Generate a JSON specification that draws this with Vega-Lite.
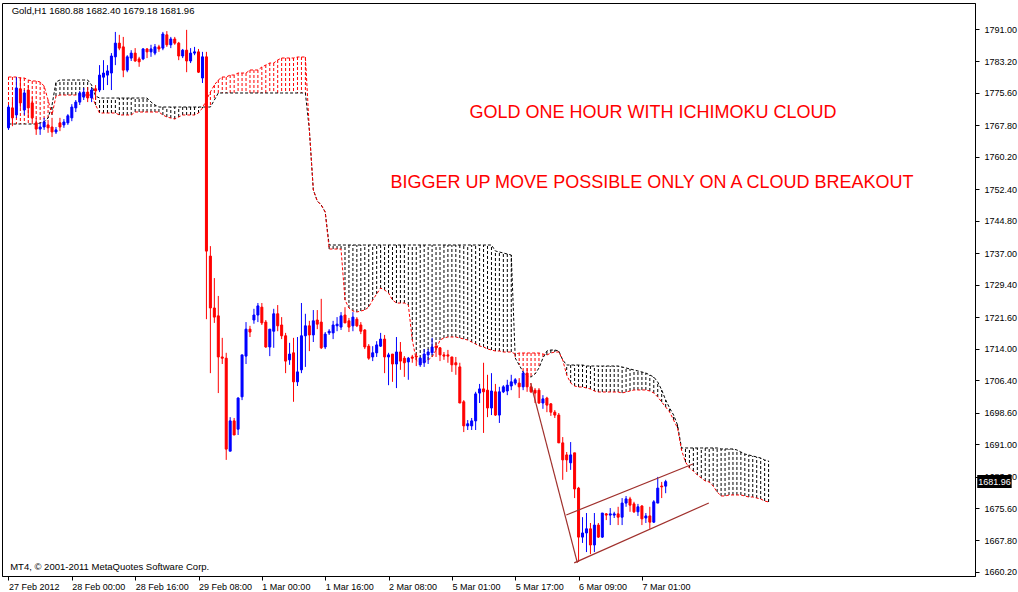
{
  "$schema": "https://vega.github.io/schema/vega-lite/v6.json",
  "width": 973,
  "height": 573,
  "autosize": {"type": "none"},
  "padding": {"left": 2, "top": 3, "right": 43, "bottom": 16},
  "background": "white",
  "config": {
    "view": {"stroke": "#000000", "strokeWidth": 1},
    "font": "Liberation Sans",
    "axis": {"labelOverlap": false, "labelFlush": false, "labelBound": false, "grid": false, "title": null}
  },
  "datasets": {
    "candles": [
      {"i":0,"o":1767.2,"h":1772.7,"l":1766.7,"c":1772.2},
      {"i":1,"o":1772.0,"h":1773.9,"l":1767.6,"c":1769.6},
      {"i":2,"o":1770.3,"h":1779.4,"l":1769.6,"c":1776.8},
      {"i":3,"o":1776.6,"h":1779.4,"l":1772.0,"c":1773.2},
      {"i":4,"o":1771.5,"h":1776.3,"l":1770.3,"c":1775.6},
      {"i":5,"o":1776.3,"h":1777.5,"l":1769.6,"c":1772.0},
      {"i":6,"o":1773.2,"h":1774.6,"l":1768.8,"c":1769.6},
      {"i":7,"o":1768.4,"h":1769.6,"l":1765.5,"c":1766.9},
      {"i":8,"o":1766.9,"h":1768.4,"l":1765.5,"c":1767.4},
      {"i":9,"o":1767.4,"h":1769.6,"l":1766.7,"c":1768.6},
      {"i":10,"o":1767.9,"h":1769.1,"l":1766.0,"c":1767.2},
      {"i":11,"o":1767.4,"h":1769.6,"l":1765.0,"c":1766.2},
      {"i":12,"o":1766.2,"h":1767.4,"l":1765.7,"c":1766.7},
      {"i":13,"o":1768.4,"h":1769.6,"l":1766.4,"c":1767.4},
      {"i":14,"o":1767.9,"h":1769.3,"l":1767.2,"c":1768.6},
      {"i":15,"o":1768.4,"h":1770.5,"l":1767.9,"c":1770.1},
      {"i":16,"o":1769.6,"h":1772.9,"l":1768.8,"c":1772.2},
      {"i":17,"o":1772.0,"h":1773.9,"l":1771.0,"c":1773.4},
      {"i":18,"o":1773.4,"h":1776.1,"l":1772.7,"c":1775.6},
      {"i":19,"o":1774.6,"h":1776.8,"l":1773.9,"c":1775.8},
      {"i":20,"o":1775.8,"h":1777.0,"l":1773.4,"c":1774.4},
      {"i":21,"o":1774.4,"h":1776.8,"l":1773.4,"c":1776.3},
      {"i":22,"o":1776.6,"h":1777.5,"l":1773.9,"c":1776.1},
      {"i":23,"o":1776.3,"h":1782.3,"l":1775.8,"c":1779.9},
      {"i":24,"o":1779.4,"h":1783.5,"l":1776.3,"c":1780.4},
      {"i":25,"o":1779.9,"h":1782.3,"l":1777.5,"c":1780.9},
      {"i":26,"o":1780.4,"h":1785.2,"l":1776.3,"c":1784.5},
      {"i":27,"o":1784.3,"h":1790.3,"l":1782.3,"c":1787.6},
      {"i":28,"o":1787.6,"h":1789.6,"l":1785.9,"c":1786.4},
      {"i":29,"o":1786.7,"h":1789.1,"l":1779.4,"c":1781.1},
      {"i":30,"o":1781.1,"h":1784.7,"l":1780.6,"c":1784.3},
      {"i":31,"o":1784.0,"h":1785.9,"l":1783.3,"c":1785.2},
      {"i":32,"o":1785.2,"h":1786.4,"l":1783.1,"c":1783.3},
      {"i":33,"o":1783.8,"h":1784.3,"l":1781.9,"c":1783.1},
      {"i":34,"o":1783.8,"h":1786.4,"l":1783.5,"c":1786.2},
      {"i":35,"o":1786.2,"h":1786.4,"l":1784.0,"c":1785.5},
      {"i":36,"o":1785.5,"h":1787.2,"l":1784.3,"c":1786.2},
      {"i":37,"o":1785.2,"h":1787.4,"l":1784.7,"c":1786.7},
      {"i":38,"o":1786.7,"h":1787.2,"l":1785.5,"c":1786.2},
      {"i":39,"o":1786.4,"h":1790.3,"l":1785.9,"c":1789.8},
      {"i":40,"o":1789.6,"h":1790.5,"l":1786.7,"c":1787.2},
      {"i":41,"o":1787.2,"h":1789.1,"l":1786.4,"c":1788.6},
      {"i":42,"o":1788.6,"h":1789.1,"l":1787.2,"c":1787.6},
      {"i":43,"o":1787.6,"h":1787.9,"l":1783.5,"c":1784.5},
      {"i":44,"o":1784.5,"h":1786.2,"l":1784.0,"c":1785.9},
      {"i":45,"o":1785.9,"h":1790.8,"l":1780.6,"c":1783.3},
      {"i":46,"o":1783.3,"h":1786.4,"l":1782.8,"c":1785.2},
      {"i":47,"o":1785.2,"h":1786.7,"l":1784.7,"c":1785.5},
      {"i":48,"o":1785.5,"h":1786.2,"l":1780.4,"c":1780.6},
      {"i":49,"o":1779.2,"h":1785.5,"l":1778.0,"c":1784.3},
      {"i":50,"o":1784.3,"h":1785.5,"l":1721.1,"c":1737.5},
      {"i":51,"o":1736.3,"h":1738.7,"l":1708.1,"c":1723.8},
      {"i":52,"o":1723.8,"h":1731.0,"l":1720.2,"c":1721.6},
      {"i":53,"o":1721.9,"h":1726.7,"l":1703.3,"c":1712.0},
      {"i":54,"o":1712.0,"h":1716.6,"l":1710.3,"c":1711.7},
      {"i":55,"o":1711.7,"h":1713.0,"l":1687.2,"c":1689.8},
      {"i":56,"o":1689.3,"h":1697.5,"l":1689.3,"c":1696.6},
      {"i":57,"o":1696.6,"h":1697.3,"l":1693.2,"c":1693.2},
      {"i":58,"o":1694.6,"h":1702.3,"l":1693.2,"c":1702.1},
      {"i":59,"o":1702.4,"h":1712.5,"l":1701.6,"c":1712.5},
      {"i":60,"o":1712.2,"h":1720.4,"l":1710.3,"c":1718.7},
      {"i":61,"o":1718.7,"h":1719.5,"l":1716.8,"c":1718.0},
      {"i":62,"o":1720.9,"h":1723.6,"l":1720.0,"c":1722.1},
      {"i":63,"o":1722.1,"h":1725.0,"l":1720.4,"c":1724.3},
      {"i":64,"o":1724.0,"h":1725.0,"l":1719.7,"c":1720.2},
      {"i":65,"o":1720.4,"h":1720.9,"l":1714.2,"c":1714.4},
      {"i":66,"o":1714.4,"h":1718.7,"l":1712.2,"c":1718.7},
      {"i":67,"o":1718.2,"h":1723.6,"l":1714.2,"c":1722.4},
      {"i":68,"o":1722.4,"h":1724.5,"l":1718.2,"c":1719.5},
      {"i":69,"o":1719.7,"h":1721.6,"l":1716.3,"c":1717.1},
      {"i":70,"o":1717.1,"h":1717.8,"l":1708.1,"c":1711.0},
      {"i":71,"o":1711.3,"h":1715.4,"l":1710.1,"c":1712.7},
      {"i":72,"o":1713.0,"h":1716.6,"l":1701.2,"c":1706.0},
      {"i":73,"o":1706.0,"h":1716.8,"l":1705.0,"c":1708.4},
      {"i":74,"o":1708.9,"h":1725.0,"l":1708.1,"c":1717.1},
      {"i":75,"o":1717.1,"h":1722.4,"l":1709.6,"c":1719.5},
      {"i":76,"o":1719.5,"h":1720.7,"l":1713.4,"c":1717.3},
      {"i":77,"o":1717.3,"h":1723.3,"l":1715.6,"c":1720.7},
      {"i":78,"o":1720.9,"h":1723.3,"l":1718.7,"c":1719.9},
      {"i":79,"o":1720.4,"h":1726.0,"l":1713.9,"c":1714.2},
      {"i":80,"o":1714.4,"h":1718.0,"l":1713.9,"c":1717.5},
      {"i":81,"o":1717.8,"h":1718.7,"l":1717.3,"c":1718.2},
      {"i":82,"o":1717.8,"h":1720.7,"l":1716.3,"c":1719.7},
      {"i":83,"o":1719.5,"h":1721.6,"l":1718.2,"c":1719.9},
      {"i":84,"o":1719.2,"h":1722.8,"l":1718.5,"c":1721.9},
      {"i":85,"o":1722.1,"h":1724.0,"l":1720.2,"c":1720.2},
      {"i":86,"o":1720.7,"h":1721.4,"l":1718.0,"c":1719.2},
      {"i":87,"o":1719.5,"h":1722.8,"l":1718.2,"c":1721.6},
      {"i":88,"o":1721.1,"h":1721.6,"l":1719.2,"c":1719.5},
      {"i":89,"o":1719.7,"h":1720.4,"l":1717.5,"c":1718.2},
      {"i":90,"o":1718.5,"h":1718.7,"l":1713.9,"c":1714.4},
      {"i":91,"o":1714.6,"h":1715.1,"l":1711.3,"c":1711.7},
      {"i":92,"o":1712.0,"h":1714.6,"l":1711.0,"c":1713.0},
      {"i":93,"o":1713.0,"h":1715.8,"l":1712.0,"c":1714.9},
      {"i":94,"o":1714.6,"h":1717.8,"l":1714.4,"c":1716.3},
      {"i":95,"o":1716.3,"h":1717.3,"l":1708.1,"c":1712.0},
      {"i":96,"o":1712.0,"h":1713.0,"l":1705.2,"c":1712.5},
      {"i":97,"o":1712.7,"h":1712.7,"l":1706.0,"c":1710.3},
      {"i":98,"o":1710.3,"h":1716.8,"l":1704.5,"c":1713.2},
      {"i":99,"o":1713.2,"h":1715.6,"l":1708.9,"c":1711.0},
      {"i":100,"o":1711.7,"h":1712.2,"l":1707.2,"c":1710.6},
      {"i":101,"o":1710.8,"h":1712.0,"l":1706.5,"c":1711.7},
      {"i":102,"o":1712.0,"h":1712.5,"l":1710.6,"c":1711.7},
      {"i":103,"o":1712.2,"h":1713.0,"l":1709.8,"c":1712.0},
      {"i":104,"o":1710.1,"h":1712.0,"l":1709.6,"c":1711.7},
      {"i":105,"o":1710.6,"h":1713.9,"l":1709.6,"c":1712.7},
      {"i":106,"o":1712.5,"h":1713.9,"l":1710.3,"c":1713.2},
      {"i":107,"o":1713.0,"h":1716.6,"l":1712.5,"c":1714.4},
      {"i":108,"o":1714.6,"h":1715.4,"l":1712.0,"c":1714.2},
      {"i":109,"o":1714.2,"h":1714.4,"l":1711.0,"c":1712.5},
      {"i":110,"o":1712.5,"h":1713.2,"l":1711.3,"c":1712.2},
      {"i":111,"o":1712.5,"h":1713.7,"l":1710.6,"c":1712.2},
      {"i":112,"o":1712.0,"h":1712.0,"l":1708.4,"c":1710.1},
      {"i":113,"o":1710.6,"h":1712.0,"l":1707.7,"c":1710.1},
      {"i":114,"o":1709.6,"h":1710.6,"l":1700.9,"c":1700.9},
      {"i":115,"o":1701.2,"h":1701.6,"l":1693.9,"c":1695.4},
      {"i":116,"o":1695.4,"h":1696.8,"l":1694.4,"c":1695.9},
      {"i":117,"o":1695.4,"h":1697.3,"l":1694.4,"c":1696.6},
      {"i":118,"o":1696.6,"h":1703.6,"l":1694.4,"c":1703.1},
      {"i":119,"o":1703.3,"h":1705.5,"l":1700.9,"c":1704.3},
      {"i":120,"o":1704.3,"h":1710.6,"l":1693.7,"c":1703.6},
      {"i":121,"o":1704.0,"h":1707.7,"l":1697.5,"c":1699.7},
      {"i":122,"o":1699.7,"h":1708.1,"l":1698.0,"c":1703.8},
      {"i":123,"o":1703.6,"h":1705.5,"l":1697.8,"c":1698.0},
      {"i":124,"o":1698.0,"h":1704.8,"l":1696.1,"c":1703.6},
      {"i":125,"o":1703.6,"h":1705.2,"l":1703.3,"c":1704.8},
      {"i":126,"o":1703.8,"h":1706.5,"l":1702.8,"c":1705.2},
      {"i":127,"o":1705.0,"h":1707.7,"l":1704.0,"c":1706.0},
      {"i":128,"o":1705.7,"h":1706.9,"l":1705.2,"c":1706.5},
      {"i":129,"o":1705.7,"h":1706.9,"l":1702.1,"c":1704.8},
      {"i":130,"o":1704.8,"h":1708.6,"l":1704.0,"c":1708.1},
      {"i":131,"o":1708.1,"h":1709.3,"l":1703.6,"c":1704.8},
      {"i":132,"o":1704.8,"h":1705.7,"l":1703.3,"c":1703.6},
      {"i":133,"o":1704.0,"h":1704.5,"l":1700.9,"c":1703.3},
      {"i":134,"o":1704.0,"h":1704.5,"l":1700.7,"c":1700.9},
      {"i":135,"o":1700.9,"h":1702.8,"l":1699.5,"c":1701.9},
      {"i":136,"o":1702.1,"h":1702.4,"l":1698.7,"c":1700.4},
      {"i":137,"o":1700.7,"h":1700.9,"l":1697.8,"c":1698.7},
      {"i":138,"o":1698.7,"h":1699.2,"l":1697.3,"c":1698.0},
      {"i":139,"o":1698.0,"h":1698.5,"l":1691.3,"c":1691.3},
      {"i":140,"o":1691.3,"h":1692.7,"l":1682.4,"c":1687.2},
      {"i":141,"o":1688.4,"h":1689.1,"l":1684.3,"c":1687.2},
      {"i":142,"o":1686.5,"h":1691.5,"l":1684.8,"c":1688.4},
      {"i":143,"o":1688.9,"h":1688.9,"l":1678.0,"c":1680.2},
      {"i":144,"o":1680.4,"h":1680.7,"l":1662.6,"c":1668.6},
      {"i":145,"o":1668.6,"h":1673.4,"l":1667.2,"c":1669.6},
      {"i":146,"o":1669.6,"h":1674.4,"l":1665.0,"c":1670.6},
      {"i":147,"o":1670.6,"h":1672.0,"l":1664.5,"c":1666.7},
      {"i":148,"o":1666.7,"h":1674.4,"l":1665.0,"c":1671.5},
      {"i":149,"o":1671.5,"h":1672.0,"l":1668.4,"c":1668.6},
      {"i":150,"o":1668.6,"h":1674.4,"l":1668.4,"c":1674.4},
      {"i":151,"o":1674.2,"h":1674.4,"l":1672.7,"c":1673.9},
      {"i":152,"o":1673.9,"h":1675.6,"l":1671.5,"c":1674.2},
      {"i":153,"o":1673.9,"h":1674.7,"l":1673.2,"c":1674.2},
      {"i":154,"o":1674.2,"h":1675.9,"l":1671.5,"c":1673.4},
      {"i":155,"o":1673.4,"h":1678.0,"l":1671.5,"c":1676.8},
      {"i":156,"o":1676.8,"h":1678.5,"l":1675.9,"c":1677.8},
      {"i":157,"o":1677.8,"h":1678.3,"l":1674.7,"c":1676.3},
      {"i":158,"o":1676.6,"h":1677.1,"l":1674.4,"c":1674.7},
      {"i":159,"o":1674.7,"h":1676.6,"l":1673.7,"c":1675.9},
      {"i":160,"o":1676.1,"h":1676.3,"l":1671.5,"c":1673.0},
      {"i":161,"o":1673.2,"h":1674.4,"l":1672.0,"c":1673.7},
      {"i":162,"o":1673.7,"h":1675.9,"l":1670.6,"c":1672.2},
      {"i":163,"o":1672.2,"h":1677.5,"l":1672.0,"c":1677.1},
      {"i":164,"o":1676.8,"h":1683.1,"l":1676.8,"c":1680.4},
      {"i":165,"o":1680.9,"h":1681.9,"l":1678.0,"c":1680.7},
      {"i":166,"o":1680.88,"h":1682.40,"l":1679.18,"c":1681.96}
    ],
    "cloud": [
      {"i":0,"a":1779.44,"b":1768.12},{"i":1,"a":1779.44,"b":1768.12},{"i":2,"a":1779.44,"b":1768.12},
      {"i":3,"a":1779.20,"b":1768.12},{"i":4,"a":1779.20,"b":1768.12},{"i":5,"a":1778.72,"b":1768.12},
      {"i":6,"a":1778.48,"b":1768.12},{"i":7,"a":1778.48,"b":1768.12},{"i":8,"a":1778.24,"b":1768.36},
      {"i":9,"a":1777.27,"b":1768.60},{"i":10,"a":1773.90,"b":1769.56},{"i":11,"a":1770.29,"b":1772.70},
      {"i":12,"a":1774.86,"b":1778.24},{"i":13,"a":1775.10,"b":1778.72},{"i":14,"a":1775.10,"b":1778.72},
      {"i":15,"a":1775.10,"b":1778.72},{"i":16,"a":1775.10,"b":1778.72},{"i":17,"a":1775.10,"b":1778.72},
      {"i":18,"a":1775.10,"b":1778.72},{"i":19,"a":1775.10,"b":1778.72},{"i":20,"a":1775.10,"b":1778.72},
      {"i":21,"a":1775.10,"b":1777.51},{"i":22,"a":1772.70,"b":1774.86},{"i":23,"a":1770.77,"b":1774.38},
      {"i":24,"a":1770.77,"b":1774.38},{"i":25,"a":1770.77,"b":1774.38},{"i":26,"a":1770.77,"b":1774.38},
      {"i":27,"a":1770.77,"b":1774.38},{"i":28,"a":1770.29,"b":1774.38},{"i":29,"a":1770.29,"b":1774.38},
      {"i":30,"a":1770.29,"b":1774.38},{"i":31,"a":1770.29,"b":1774.38},{"i":32,"a":1771.01,"b":1774.38},
      {"i":33,"a":1771.01,"b":1774.38},{"i":34,"a":1771.01,"b":1774.38},{"i":35,"a":1771.01,"b":1774.38},
      {"i":36,"a":1771.01,"b":1773.42},{"i":37,"a":1771.01,"b":1772.70},{"i":38,"a":1771.01,"b":1772.21},
      {"i":39,"a":1770.29,"b":1772.21},{"i":40,"a":1769.81,"b":1772.21},{"i":41,"a":1769.56,"b":1772.21},
      {"i":42,"a":1769.32,"b":1772.21},{"i":43,"a":1769.81,"b":1772.21},{"i":44,"a":1770.29,"b":1772.21},
      {"i":45,"a":1770.29,"b":1772.21},{"i":46,"a":1770.29,"b":1772.21},{"i":47,"a":1770.29,"b":1772.21},
      {"i":48,"a":1770.77,"b":1772.21},{"i":49,"a":1771.97,"b":1772.21},{"i":50,"a":1773.90,"b":1772.21},
      {"i":51,"a":1775.83,"b":1772.21},{"i":52,"a":1777.51,"b":1773.90},{"i":53,"a":1778.72,"b":1775.59},
      {"i":54,"a":1779.44,"b":1775.59},{"i":55,"a":1779.44,"b":1775.59},{"i":56,"a":1779.92,"b":1775.59},
      {"i":57,"a":1779.92,"b":1775.59},{"i":58,"a":1780.40,"b":1775.59},{"i":59,"a":1780.40,"b":1775.59},
      {"i":60,"a":1780.40,"b":1775.59},{"i":61,"a":1781.13,"b":1775.59},{"i":62,"a":1781.13,"b":1775.59},
      {"i":63,"a":1781.13,"b":1775.59},{"i":64,"a":1781.85,"b":1775.59},{"i":65,"a":1782.33,"b":1775.59},
      {"i":66,"a":1782.81,"b":1775.59},{"i":67,"a":1782.81,"b":1775.59},{"i":68,"a":1783.54,"b":1775.59},
      {"i":69,"a":1784.02,"b":1775.59},{"i":70,"a":1784.02,"b":1775.59},{"i":71,"a":1784.02,"b":1775.59},
      {"i":72,"a":1784.02,"b":1775.59},{"i":73,"a":1784.26,"b":1775.59},{"i":74,"a":1784.26,"b":1775.59},
      {"i":75,"a":1784.26,"b":1775.59},{"i":76,"a":1766.67,"b":1766.67},{"i":77,"a":1752.22,"b":1752.22},
      {"i":78,"a":1749.57,"b":1749.57},{"i":79,"a":1748.60,"b":1748.60},{"i":80,"a":1746.92,"b":1746.92},
      {"i":81,"a":1738.00,"b":1738.97},{"i":82,"a":1738.00,"b":1738.97},{"i":83,"a":1738.00,"b":1738.97},
      {"i":84,"a":1738.00,"b":1738.97},{"i":85,"a":1725.72,"b":1738.97},{"i":86,"a":1723.79,"b":1738.97},
      {"i":87,"a":1723.07,"b":1738.97},{"i":88,"a":1722.83,"b":1738.97},{"i":89,"a":1723.07,"b":1738.97},
      {"i":90,"a":1723.31,"b":1738.97},{"i":91,"a":1724.03,"b":1738.97},{"i":92,"a":1725.72,"b":1738.97},
      {"i":93,"a":1727.17,"b":1738.97},{"i":94,"a":1728.61,"b":1738.97},{"i":95,"a":1728.13,"b":1738.97},
      {"i":96,"a":1727.41,"b":1738.97},{"i":97,"a":1725.72,"b":1738.97},{"i":98,"a":1724.99,"b":1738.97},
      {"i":99,"a":1724.99,"b":1738.97},{"i":100,"a":1724.99,"b":1738.97},{"i":101,"a":1724.52,"b":1738.97},
      {"i":102,"a":1716.08,"b":1738.97},{"i":103,"a":1711.27,"b":1738.97},{"i":104,"a":1710.54,"b":1738.97},
      {"i":105,"a":1710.78,"b":1738.97},{"i":106,"a":1711.27,"b":1738.97},{"i":107,"a":1711.99,"b":1738.97},
      {"i":108,"a":1713.67,"b":1738.97},{"i":109,"a":1716.08,"b":1738.97},{"i":110,"a":1716.57,"b":1738.97},
      {"i":111,"a":1716.81,"b":1738.97},{"i":112,"a":1716.81,"b":1738.97},{"i":113,"a":1716.81,"b":1738.97},
      {"i":114,"a":1716.57,"b":1738.97},{"i":115,"a":1716.32,"b":1738.97},{"i":116,"a":1716.08,"b":1738.97},
      {"i":117,"a":1715.60,"b":1738.97},{"i":118,"a":1715.12,"b":1738.97},{"i":119,"a":1714.64,"b":1738.97},
      {"i":120,"a":1714.40,"b":1738.97},{"i":121,"a":1713.92,"b":1738.97},{"i":122,"a":1713.67,"b":1738.97},
      {"i":123,"a":1713.43,"b":1737.52},{"i":124,"a":1713.43,"b":1737.28},{"i":125,"a":1713.19,"b":1737.04},
      {"i":126,"a":1713.19,"b":1736.80},{"i":127,"a":1713.19,"b":1736.56},{"i":128,"a":1712.71,"b":1711.75},
      {"i":129,"a":1712.95,"b":1710.06},{"i":130,"a":1712.95,"b":1708.37},{"i":131,"a":1712.95,"b":1707.41},
      {"i":132,"a":1712.95,"b":1707.17},{"i":133,"a":1712.95,"b":1707.89},{"i":134,"a":1712.95,"b":1709.34},
      {"i":135,"a":1712.71,"b":1711.75},{"i":136,"a":1712.47,"b":1713.43},{"i":137,"a":1712.95,"b":1713.67},
      {"i":138,"a":1713.19,"b":1713.67},{"i":139,"a":1713.19,"b":1713.43},{"i":140,"a":1711.27,"b":1711.27},
      {"i":141,"a":1707.65,"b":1710.06},{"i":142,"a":1705.72,"b":1710.06},{"i":143,"a":1705.00,"b":1710.06},
      {"i":144,"a":1704.76,"b":1710.06},{"i":145,"a":1704.76,"b":1710.06},{"i":146,"a":1704.52,"b":1709.82},
      {"i":147,"a":1704.28,"b":1709.82},{"i":148,"a":1703.80,"b":1709.82},{"i":149,"a":1703.56,"b":1709.82},
      {"i":150,"a":1703.56,"b":1709.82},{"i":151,"a":1703.56,"b":1709.82},{"i":152,"a":1703.56,"b":1709.82},
      {"i":153,"a":1703.56,"b":1709.82},{"i":154,"a":1703.56,"b":1709.82},{"i":155,"a":1703.32,"b":1709.58},
      {"i":156,"a":1703.56,"b":1709.34},{"i":157,"a":1703.80,"b":1709.10},{"i":158,"a":1704.04,"b":1708.86},
      {"i":159,"a":1704.04,"b":1708.62},{"i":160,"a":1704.04,"b":1708.37},{"i":161,"a":1704.04,"b":1708.13},
      {"i":162,"a":1703.80,"b":1707.65},{"i":163,"a":1703.32,"b":1707.17},{"i":164,"a":1702.35,"b":1705.96},
      {"i":165,"a":1701.15,"b":1704.04},{"i":166,"a":1699.94,"b":1701.63},{"i":167,"a":1698.74,"b":1699.70},
      {"i":168,"a":1696.81,"b":1698.02},{"i":169,"a":1694.89,"b":1695.61},{"i":170,"a":1689.59,"b":1690.07},
      {"i":171,"a":1686.69,"b":1690.07},{"i":172,"a":1685.25,"b":1690.07},{"i":173,"a":1684.53,"b":1690.07},
      {"i":174,"a":1683.56,"b":1690.07},{"i":175,"a":1682.84,"b":1690.07},{"i":176,"a":1682.12,"b":1690.07},
      {"i":177,"a":1681.88,"b":1690.07},{"i":178,"a":1680.91,"b":1690.07},{"i":179,"a":1679.47,"b":1690.07},
      {"i":180,"a":1678.51,"b":1689.83},{"i":181,"a":1678.51,"b":1689.83},{"i":182,"a":1678.75,"b":1689.83},
      {"i":183,"a":1678.75,"b":1689.83},{"i":184,"a":1678.75,"b":1689.59},{"i":185,"a":1678.75,"b":1689.10},
      {"i":186,"a":1678.51,"b":1688.62},{"i":187,"a":1678.26,"b":1688.38},{"i":188,"a":1678.26,"b":1688.14},
      {"i":189,"a":1678.02,"b":1687.90},{"i":190,"a":1677.78,"b":1687.66},{"i":191,"a":1677.30,"b":1687.18},
      {"i":192,"a":1677.06,"b":1686.94}
    ],
    "trendlines": [
      {"x1":131.9,"y1":1705.7,"x2":143.7,"y2":1662.4},
      {"x1":142.9,"y1":1662.4,"x2":176.9,"y2":1676.82},
      {"x1":140.9,"y1":1673.93,"x2":172.9,"y2":1686.21}
    ],
    "headline": [
      {"t":"GOLD ONE HOUR WITH ICHIMOKU CLOUD","i":162.8,"p":1769.49},
      {"t":"BIGGER UP MOVE POSSIBLE ONLY ON A CLOUD BREAKOUT","i":162.55,"p":1752.63}
    ],
    "smalltext": [
      {"t":"Gold,H1  1680.88 1682.40 1679.18 1681.96","i":0.8,"p":1794.5},
      {"t":"MT4, © 2001-2011 MetaQuotes Software Corp.","i":0.43,"p":1660.68}
    ],
    "pricetag": [
      {"t":"1681.96","i0":244.7,"i1":253.4,"im":249.05,"p0":1680.43,"p1":1683.56,"p":1681.96}
    ]
  },
  "layer": [
    {
      "data": {"name": "cloud"},
      "mark": {"type": "rule", "strokeDash": [3, 2], "strokeWidth": 1},
      "encoding": {
        "x": {
          "field": "i", "type": "quantitative", "title": null,
          "scale": {"domain": [-0.375, 242.875], "nice": false, "zero": false},
          "axis": {
            "orient": "bottom", "title": null, "grid": false,
            "values": [0, 16, 32, 48, 64, 80, 96, 112, 128, 144, 160],
            "tickCount": 40,
            "labelExpr": "['27 Feb 2012','28 Feb 00:00','28 Feb 16:00','29 Feb 08:00','1 Mar 00:00','1 Mar 16:00','2 Mar 08:00','5 Mar 01:00','5 Mar 17:00','6 Mar 09:00','7 Mar 01:00'][round(datum.value / 16)]",
            "domainColor": "#000000", "tickColor": "#000000", "tickSize": 4,
            "labelAlign": "left", "labelBaseline": "top", "labelPadding": 2,
            "labelFont": "Liberation Sans", "labelFontSize": 9, "labelColor": "#000000",
            "labelOverlap": false, "labelFlush": false
          }
        },
        "y": {
          "field": "a", "type": "quantitative", "title": null,
          "scale": {"domain": [1659.23, 1797.27], "nice": false, "zero": false},
          "axis": {
            "orient": "right", "title": null, "grid": false,
            "values": [1791.0, 1783.2, 1775.6, 1767.8, 1760.2, 1752.4, 1744.8, 1737.0, 1729.4, 1721.6, 1714.0, 1706.4, 1698.6, 1691.0, 1683.2, 1675.6, 1667.8, 1660.2],
            "tickCount": 40,
            "format": ".2f",
            "domainColor": "#000000", "tickColor": "#000000", "tickSize": 4,
            "labelPadding": 5, "labelBaseline": "middle",
            "labelFont": "Liberation Sans", "labelFontSize": 9, "labelColor": "#000000",
            "labelOverlap": false, "labelFlush": false
          }
        },
        "y2": {"field": "b"},
        "color": {"condition": {"test": "datum.a > datum.b", "value": "#ff0000"}, "value": "#000000"}
      }
    },
    {
      "data": {"name": "cloud"},
      "mark": {"type": "line", "color": "#000000", "strokeDash": [3, 2], "strokeWidth": 1},
      "encoding": {
        "x": {"field": "i", "type": "quantitative", "title": null, "scale": {"domain": [-0.375, 242.875], "nice": false, "zero": false}},
        "y": {"field": "b", "type": "quantitative", "title": null, "scale": {"domain": [1659.23, 1797.27], "nice": false, "zero": false}}
      }
    },
    {
      "data": {"name": "cloud"},
      "mark": {"type": "line", "color": "#ff0000", "strokeDash": [3, 2], "strokeWidth": 1},
      "encoding": {
        "x": {"field": "i", "type": "quantitative", "title": null, "scale": {"domain": [-0.375, 242.875], "nice": false, "zero": false}},
        "y": {"field": "a", "type": "quantitative", "title": null, "scale": {"domain": [1659.23, 1797.27], "nice": false, "zero": false}}
      }
    },
    {
      "data": {"name": "candles"},
      "mark": {"type": "rule", "strokeWidth": 1},
      "encoding": {
        "x": {"field": "i", "type": "quantitative", "title": null, "scale": {"domain": [-0.375, 242.875], "nice": false, "zero": false}},
        "y": {"field": "l", "type": "quantitative", "title": null, "scale": {"domain": [1659.23, 1797.27], "nice": false, "zero": false}},
        "y2": {"field": "h"},
        "color": {"condition": {"test": "datum.c >= datum.o", "value": "#0000ff"}, "value": "#ff0000"}
      }
    },
    {
      "data": {"name": "candles"},
      "mark": {"type": "bar", "size": 2, "strokeWidth": 1},
      "encoding": {
        "x": {"field": "i", "type": "quantitative", "title": null, "scale": {"domain": [-0.375, 242.875], "nice": false, "zero": false}},
        "y": {"field": "o", "type": "quantitative", "title": null, "scale": {"domain": [1659.23, 1797.27], "nice": false, "zero": false}},
        "y2": {"field": "c"},
        "color": {"condition": {"test": "datum.c >= datum.o", "value": "#0000ff"}, "value": "#ff0000"},
        "stroke": {"condition": {"test": "datum.c >= datum.o", "value": "#0000ff"}, "value": "#ff0000"}
      }
    },
    {
      "data": {"name": "trendlines"},
      "mark": {"type": "rule", "color": "#a0302c", "strokeWidth": 1.2},
      "encoding": {
        "x": {"field": "x1", "type": "quantitative", "title": null, "scale": {"domain": [-0.375, 242.875], "nice": false, "zero": false}},
        "y": {"field": "y1", "type": "quantitative", "title": null, "scale": {"domain": [1659.23, 1797.27], "nice": false, "zero": false}},
        "x2": {"field": "x2"},
        "y2": {"field": "y2"}
      }
    },
    {
      "data": {"name": "headline"},
      "mark": {"type": "text", "align": "center", "baseline": "alphabetic", "font": "Liberation Sans", "fontSize": 18, "color": "#ff0000"},
      "encoding": {
        "x": {"field": "i", "type": "quantitative", "title": null, "scale": {"domain": [-0.375, 242.875], "nice": false, "zero": false}},
        "y": {"field": "p", "type": "quantitative", "title": null, "scale": {"domain": [1659.23, 1797.27], "nice": false, "zero": false}},
        "text": {"field": "t"}
      }
    },
    {
      "data": {"name": "smalltext"},
      "mark": {"type": "text", "align": "left", "baseline": "alphabetic", "font": "Liberation Sans", "fontSize": 9.5, "color": "#000000"},
      "encoding": {
        "x": {"field": "i", "type": "quantitative", "title": null, "scale": {"domain": [-0.375, 242.875], "nice": false, "zero": false}},
        "y": {"field": "p", "type": "quantitative", "title": null, "scale": {"domain": [1659.23, 1797.27], "nice": false, "zero": false}},
        "text": {"field": "t"}
      }
    },
    {
      "data": {"name": "pricetag"},
      "mark": {"type": "rect", "color": "#000000"},
      "encoding": {
        "x": {"field": "i0", "type": "quantitative", "title": null, "scale": {"domain": [-0.375, 242.875], "nice": false, "zero": false}},
        "x2": {"field": "i1"},
        "y": {"field": "p0", "type": "quantitative", "title": null, "scale": {"domain": [1659.23, 1797.27], "nice": false, "zero": false}},
        "y2": {"field": "p1"}
      }
    },
    {
      "data": {"name": "pricetag"},
      "mark": {"type": "text", "align": "center", "baseline": "middle", "font": "Liberation Sans", "fontSize": 9, "color": "#ffffff"},
      "encoding": {
        "x": {"field": "im", "type": "quantitative", "title": null, "scale": {"domain": [-0.375, 242.875], "nice": false, "zero": false}},
        "y": {"field": "p", "type": "quantitative", "title": null, "scale": {"domain": [1659.23, 1797.27], "nice": false, "zero": false}},
        "text": {"field": "t"}
      }
    }
  ]
}
